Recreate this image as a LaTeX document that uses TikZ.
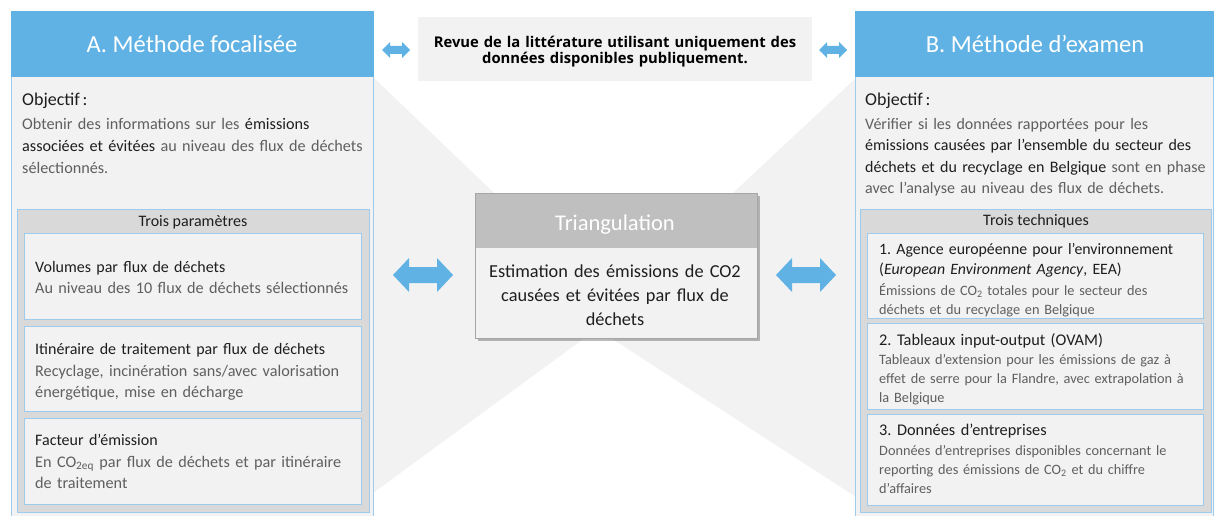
\documentclass[tikz,border=0pt]{standalone}
\usepackage{fontspec}
\setmainfont{Carlito}
\newfontfamily\osans{Open Sans}
\usetikzlibrary{fit,shadows,calc}
\definecolor{hblue}{RGB}{97,178,228}
\definecolor{lblue}{RGB}{157,203,238}
\definecolor{pgray}{RGB}{242,242,242}
\definecolor{mgray}{RGB}{217,217,217}
\definecolor{tgray}{RGB}{191,191,191}
\definecolor{bgray}{RGB}{166,166,166}
\definecolor{dtext}{RGB}{30,30,30}
\definecolor{gtext}{RGB}{95,95,95}
\newcommand\fs[2]{\fontsize{#1}{#2}\selectfont}
\newcommand\blockarrow[5]{%
  \fill[hblue] (#1) -- ++(#3,-#4) -- ++(0,{#4-#5}) -- ($(#2)+(-#3,-#5)$) -- ++(0,{#5-#4}) -- (#2) -- ++(-#3,#4) -- ++(0,{#5-#4}) -- ($(#1)+(#3,#5)$) -- ++(0,{#4-#5}) -- cycle;}
\frenchspacing
\begin{document}
\frenchspacing
\begin{tikzpicture}[x=1pt,y=-1pt,
  frame/.style={inner sep=0pt, outer sep=0pt},
  lbox/.style={frame, draw=lblue, line width=1pt},
  txt/.style={inner sep=0pt, anchor=base west, align=left, text width=380pt},
  ctr/.style={inner sep=0pt, anchor=base, align=center},
  ctrm/.style={inner sep=0pt, anchor=base, align=center, text width=400pt},
  dk/.style={text=dtext},
  gr/.style={text=gtext}]
\useasboundingbox (0,0) rectangle (1214,516);
% background bow shape
\fill[pgray] (373,77) -- (612,306) -- (856,78) -- (856,497) -- (597,329) -- (373,493) -- cycle;

% ---------- Panel A ----------
\node[lbox, fill=pgray, fit={(11,77) (373,522)}] (bodyA) {};
\node[frame, fill=hblue, fit={(10.5,11) (373.5,77)}] (hdrA) {};
\node[ctr, text=white, font=\fs{24.5}{28}] (tA) at (192,53) {A. Méthode focalisée};
\node[txt, dk, font=\fs{18}{22}] (objA) at (22,106) {Objectif\hspace{0.15em}:};
\node[txt, gr, font=\fs{16.2}{22}] (objAt) at (22,129) {Obtenir des informations sur les \textcolor{dtext}{émissions}\\
\textcolor{dtext}{associées et évitées} au niveau des flux de déchets\\
sélectionnés.};
\node[lbox, fill=mgray, fit={(17,209) (369,512)}] (parA) {};
\node[ctr, dk, font=\fs{16}{18}] (parAt) at (193,226) {Trois paramètres};
\node[lbox, fill=pgray, fit={(24,233) (361,319)}] (a1) {};
\node[lbox, fill=pgray, fit={(24,326) (361,411)}] (a2) {};
\node[lbox, fill=pgray, fit={(24,418) (361,504)}] (a3) {};
\node[txt, dk, font=\fs{16}{20}] (a1h) at (35,272) {Volumes par flux de déchets};
\node[txt, gr, font=\fs{16.2}{21.5}] (a1d) at (35,293) {Au niveau des 10 flux de déchets sélectionnés};
\node[txt, dk, font=\fs{16}{20}] (a2h) at (35,354) {Itinéraire de traitement par flux de déchets};
\node[txt, gr, font=\fs{16.2}{21.5}] (a2d) at (35,376) {Recyclage, incinération sans/avec valorisation\\énergétique, mise en décharge};
\node[txt, dk, font=\fs{16}{20}] (a3h) at (35,445) {Facteur d’émission};
\node[txt, gr, font=\fs{16.2}{21.5}] (a3d) at (35,467) {En CO\textsubscript{2eq} par flux de déchets et par itinéraire\\de traitement};

% ---------- Panel B ----------
\node[lbox, fill=pgray, fit={(855,77) (1213,522)}] (bodyB) {};
\node[frame, fill=hblue, fit={(854.5,11) (1213.5,77)}] (hdrB) {};
\node[ctr, text=white, font=\fs{24.5}{28}] (tB) at (1035,53) {B. Méthode d’examen};
\node[txt, dk, font=\fs{18}{22}] (objB) at (865,106) {Objectif\hspace{0.15em}:};
\node[txt, gr, font=\fs{16}{21.6}] (objBt) at (865,129) {Vérifier si les données rapportées pour les\\
\textcolor{dtext}{émissions causées par l’ensemble du secteur des}\\
\textcolor{dtext}{déchets et du recyclage en Belgique} sont en phase\\
avec l’analyse au niveau des flux de déchets.};
\node[lbox, fill=mgray, fit={(860,209) (1211,512)}] (tecB) {};
\node[ctr, dk, font=\fs{16}{18}] (tecBt) at (1036,225) {Trois techniques};
\node[lbox, fill=pgray, fit={(867,233) (1203,318)}] (b1) {};
\node[lbox, fill=pgray, fit={(867,323) (1203,409)}] (b2) {};
\node[lbox, fill=pgray, fit={(867,414) (1203,505)}] (b3) {};
\node[txt, dk, font=\fs{15.8}{20.5}] (b1h) at (879,254) {1. Agence européenne pour l’environnement\\(\textit{European Environment Agency}, EEA)};
\node[txt, gr, font=\fs{14.3}{19.5}] (b1d) at (879,295) {Émissions de CO\textsubscript{2} totales pour le secteur des\\déchets et du recyclage en Belgique};
\node[txt, dk, font=\fs{16.3}{20}] (b2h) at (879,345) {2. Tableaux input-output (OVAM)};
\node[txt, gr, font=\fs{14.3}{19}] (b2d) at (879,364) {Tableaux d’extension pour les émissions de gaz à\\effet de serre pour la Flandre, avec extrapolation à\\la Belgique};
\node[txt, dk, font=\fs{16.3}{20}] (b3h) at (879,435) {3. Données d’entreprises};
\node[txt, gr, font=\fs{14.3}{19.3}] (b3d) at (879,455) {Données d’entreprises disponibles concernant le\\reporting des émissions de CO\textsubscript{2} et du chiffre\\d’affaires};

% ---------- Top box ----------
\node[frame, fill=pgray, fit={(418,17) (812,81)}] (rev) {};
\node[ctrm, font=\osans\bfseries\fs{14.8}{16}, text=black] (revt) at (615,47.5) {Revue de la littérature utilisant uniquement des\\données disponibles publiquement.};

% ---------- Triangulation ----------
\node[frame, fill=pgray, draw=bgray, line width=0.8pt, fit={(475,193) (757,338)},
  drop shadow={shadow xshift=2.5pt, shadow yshift=-2.5pt, opacity=0.45, fill=black!60}] (tri) {};
\node[frame, fill=tgray, fit={(475,193) (757,248)}] (trih) {};
\draw[bgray, line width=0.8pt] (tri.north west) rectangle (tri.south east);
\node[ctr, text=white, font=\fs{22.5}{26}] (trit) at (615,230) {Triangulation};
\node[ctrm, dk, font=\fs{18.3}{24.2}] (trib) at (615,277) {Estimation des émissions de CO2\\causées et évitées par flux de\\déchets};

% ---------- Arrows ----------
\coordinate (sl1) at (382,50); \coordinate (sl2) at (410,50);
\coordinate (sr1) at (819,50); \coordinate (sr2) at (847,50);
\coordinate (bl1) at (393,275); \coordinate (bl2) at (453,275);
\coordinate (br1) at (776,275); \coordinate (br2) at (836,275);
\blockarrow{sl1}{sl2}{8}{8}{4}
\blockarrow{sr1}{sr2}{8}{8}{4}
\blockarrow{bl1}{bl2}{16}{17}{8}
\blockarrow{br1}{br2}{16}{17}{8}
\end{tikzpicture}
\end{document}
